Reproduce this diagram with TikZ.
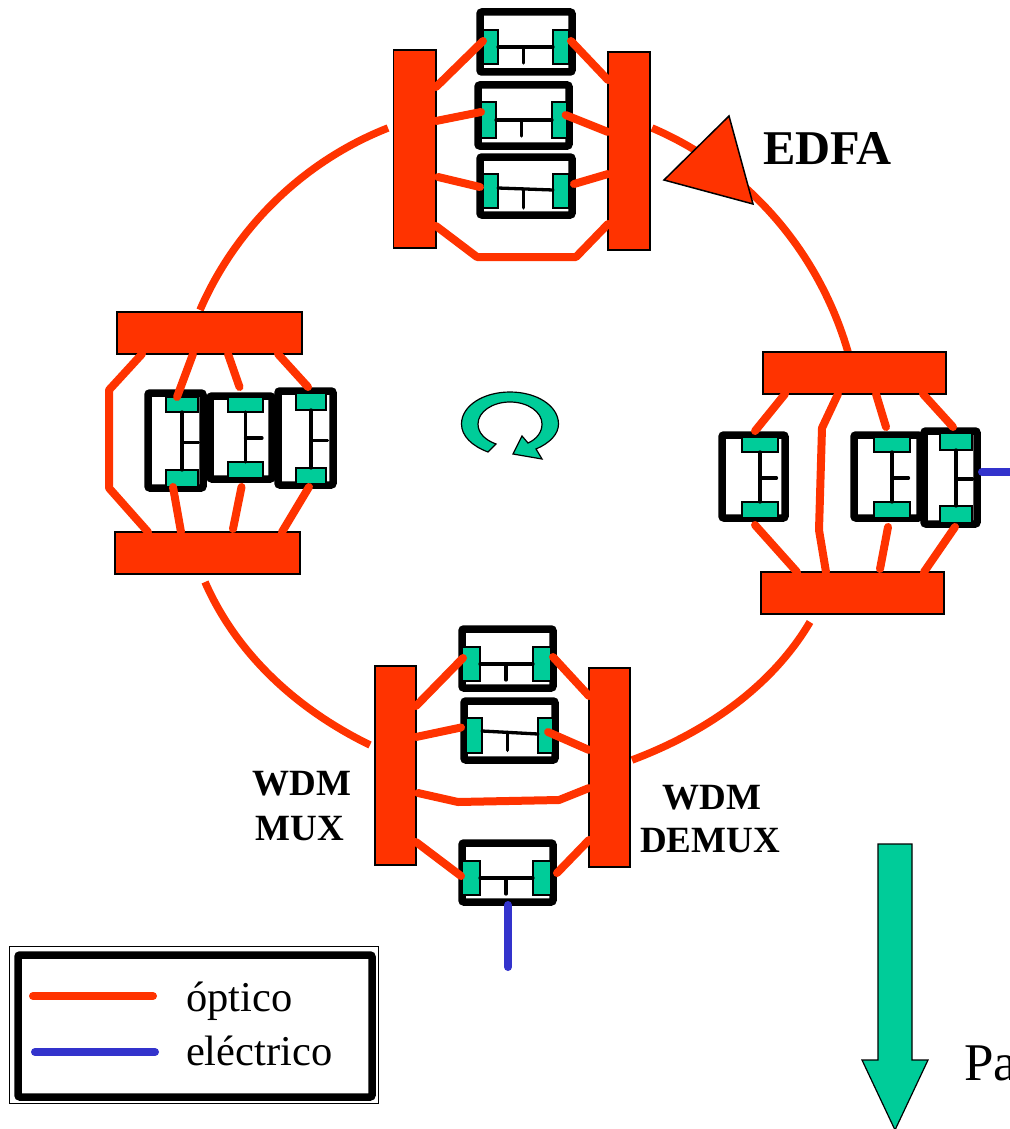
\documentclass[tikz,border=0pt]{standalone}
\usepackage{fontspec}
\setmainfont{Liberation Serif}
\usetikzlibrary{calc}
\definecolor{optred}{HTML}{FF3300}
\definecolor{grn}{HTML}{00CC99}
\definecolor{elblue}{HTML}{3333CC}
\newcommand{\boxat}[6]{%
  \pgfmathsetmacro\wid{#5-#3}\pgfmathsetmacro\hei{#6-#4}%
  \node[#1,minimum width=\wid pt,minimum height=\hei pt] (#2) at ({(#3+#5)/2},{(#4+#6)/2}) {};}
\def\lya{0}\def\lyb{0}\def\ticklen{16}
% horizontal unit: box, left green, right green, tick offset
\newcommand{\unitH}[9]{% name, box x0 y0 x1 y1, green xa xb xc (passed below)
  \boxat{unitbox}{#1}{#2}{#3}{#4}{#5}%
  \def\un{#1}\def\ga{#6}\def\gb{#7}\def\gc{#8}\def\gd{#9}\unitHb}
\newcommand{\unitHb}[3]{% green y0 y1, tick fraction
  \boxat{greenbox}{\un a}{\ga}{#1}{\gb}{#2}%
  \boxat{greenbox}{\un b}{\gc}{#1}{\gd}{#2}%
  \draw[wire] ([yshift=\lya]\un a.east) -- ([yshift=\lyb]\un b.west);
  \draw[wire] ($([yshift=\lya]\un a.east)!#3!([yshift=\lyb]\un b.west)$) -- ++(0,\ticklen);}
\newcommand{\unitV}[9]{% name, box x0 y0 x1 y1, green x0 x1, ya yb
  \boxat{unitbox}{#1}{#2}{#3}{#4}{#5}%
  \def\un{#1}\def\ga{#6}\def\gb{#7}\def\gc{#8}\def\gd{#9}\unitVb}
\newcommand{\unitVb}[2]{% yc yd
  \boxat{greenbox}{\un a}{\ga}{\gc}{\gb}{\gd}%
  \boxat{greenbox}{\un b}{\ga}{#1}{\gb}{#2}%
  \draw[wire] (\un a.south) -- (\un b.north);
  \draw[wire] ($(\un a.south)!.52!(\un b.north)$) -- ++(16.5,0);}
\tikzset{
  every node/.style={inner sep=0pt,outer sep=0pt},
  barbox/.style={draw=black,line width=1.2pt,fill=optred},
  unitbox/.style={draw=black,line width=7.5pt,fill=white,rounded corners=2pt},
  greenbox/.style={draw=black,line width=1.1pt,fill=grn},
  opt/.style={draw=optred,line width=8pt,line cap=round,line join=round},
  ring/.style={draw=optred,line width=7.5pt},
  elec/.style={draw=elblue,line width=8pt,line cap=round},
  wire/.style={draw=black,line width=3.3pt,line cap=round},
  boldlab/.style={font=\bfseries\fontsize{37}{37}\selectfont,anchor=base},
  leglab/.style={font=\fontsize{42.5}{42.5}\selectfont,anchor=base west},
}
\begin{document}
\begin{tikzpicture}[x=1pt,y=-1pt]
\useasboundingbox (0,0) rectangle (1009,1129);
% ring
\coordinate (r1) at (388,128); \coordinate (r2) at (200,310);
\coordinate (r3) at (205,582); \coordinate (r4) at (370,745);
\coordinate (r5) at (632,760); \coordinate (r6) at (810,622);
\coordinate (r7) at (652,128); \coordinate (r8) at (848,352);
\draw[ring] (r1) .. controls (304,161) and (236,227) .. (r2);
\draw[ring] (r3) .. controls (237,655) and (298,710) .. (r4);
\draw[ring] (r5) .. controls (704,733) and (771,688) .. (r6);
\draw[ring] (r7) .. controls (748,169) and (819,252) .. (r8);
% EDFA
\draw[fill=optred,draw=black,line width=1.5pt,line join=miter] (729,116) -- (664,180) -- (753,204) -- cycle;
\node[font=\bfseries\fontsize{48.5}{48.5}\selectfont,anchor=base west] (edfa) at (763,164) {EDFA};

% TOP GROUP
\boxat{barbox}{TL}{393.5}{50}{436}{248}
\boxat{barbox}{TR}{608}{52}{650}{250}
\unitH{ta}{480}{12}{572}{72}{483}{498}{553}{569}{30}{64}{.46}
\unitH{tb}{478}{85}{569}{146}{481}{496}{552}{567}{102}{138}{.46}
\def\lya{3}\def\lyb{1}\def\ticklen{19}
\unitH{tc}{480}{157}{572}{215}{483}{498}{553}{569}{174}{208}{.46}
\def\lya{0}\def\lyb{0}\def\ticklen{16}
\draw[opt] ([yshift=-37]TL.north east) -- ([yshift=6]taa.west);
\draw[opt] ([yshift=-71]TL.north east) -- ([yshift=8]tba.west);
\draw[opt] ([xshift=2,yshift=-127]TL.north east) -- ([xshift=-3,yshift=4]tca.west);
\draw[opt] ([yshift=-176]TL.north east) -- (477,257) -- (576,257) -- ([yshift=-172]TR.north west);
\draw[opt] ([xshift=2,yshift=6]tab.east) -- ([yshift=-28]TR.north west);
\draw[opt] ([xshift=6,yshift=5]tbb.center) -- ([yshift=-80]TR.north west);
\draw[opt] ([xshift=5,yshift=7]tcb.east) -- ([yshift=-122]TR.north west);

% LEFT GROUP
\boxat{barbox}{LT}{117}{312}{302}{354}
\boxat{barbox}{LB}{115}{532}{300}{574}
\unitV{lb}{210}{396}{272}{479}{228}{263}{397}{412}{462}{478}
\unitV{la}{148}{393}{203}{488}{166}{198}{397}{412}{470}{487}
\unitV{lc}{278}{391}{333}{485}{296}{326}{393}{410}{468}{484}
\draw[opt] ([xshift=25]LT.south west) -- (109,390) -- (109,488) -- ([xshift=33]LB.north west);
\draw[opt] ([xshift=76]LT.south west) -- ([xshift=-5]laa.north);
\draw[opt] ([xshift=111]LT.south west) -- ([yshift=10,xshift=-6]lba.north);
\draw[opt] ([xshift=161]LT.south west) -- ([xshift=-3,yshift=6]lca.north);
\draw[opt] ([xshift=-9]lab.south) -- ([xshift=66]LB.north west);
\draw[opt] ([xshift=-4,yshift=-9]lbb.south) -- ([xshift=118,yshift=3]LB.north west);
\draw[opt] ([xshift=-2,yshift=-3]lcb.south) -- ([xshift=167]LB.north west);

% RIGHT GROUP
\boxat{barbox}{RT}{763}{352}{946}{394}
\boxat{barbox}{RB}{761}{572}{944}{614}
\unitV{ra}{722}{435}{785}{518}{742}{778}{437}{452}{502}{518}
\unitV{rb}{854}{435}{920}{518}{874}{910}{437}{452}{502}{518}
\unitV{rc}{924}{431}{977}{524}{940}{972}{433}{450}{506}{523}
\draw[elec] ([xshift=5,yshift=5.5]rc.east) -- ++(40,0);
\draw[opt] ([xshift=22]RT.south west) -- ([xshift=-5,yshift=6]raa.north);
\draw[opt] ([xshift=75]RT.south west) -- (822,428) -- (819,530) -- ([xshift=65]RB.north west);
\draw[opt] ([xshift=113]RT.south west) -- ([xshift=-6,yshift=10]rba.north);
\draw[opt] ([xshift=160]RT.south west) -- ([xshift=-3,yshift=6]rca.north);
\draw[opt] ([xshift=-5,yshift=-7]rab.south) -- ([xshift=36]RB.north west);
\draw[opt] ([xshift=-4,yshift=-9]rbb.south) -- ([xshift=119,yshift=3]RB.north west);
\draw[opt] ([xshift=-1,yshift=-4]rcb.south) -- ([xshift=163]RB.north west);

% BOTTOM GROUP
\boxat{barbox}{BL}{375}{666}{416}{865}
\boxat{barbox}{BR}{589}{668}{630}{867}
\unitH{ba}{462}{629}{553}{688}{462}{480}{533}{551}{647}{681}{.49}
\def\lya{4.5}\def\lyb{1.5}\def\ticklen{18}
\unitH{bb}{464}{701}{555}{760}{466}{482}{538}{553}{718}{753}{.46}
\def\lya{0}\def\lyb{0}\def\ticklen{16}
\unitH{bc}{462}{843}{553}{902}{462}{480}{533}{551}{861}{895}{.49}
\draw[elec] ([xshift=.5,yshift=-3]bc.south) -- ++(0,62);
\draw[opt] ([yshift=-40]BL.north east) -- ([xshift=1,yshift=6]baa.west);
\draw[opt] ([yshift=-71]BL.north east) -- ([xshift=-5,yshift=8]bba.west);
\draw[opt] ([xshift=2,yshift=-127]BL.north east) -- (458,802) -- (559,800) -- ([yshift=-120]BR.north west);
\draw[opt] ([yshift=-176]BL.north east) -- ([xshift=-1,yshift=2]bca.west);
\draw[opt] ([xshift=2,yshift=7]bab.east) -- ([yshift=-28]BR.north west);
\draw[opt] ([xshift=2.5,yshift=3.5]bbb.center) -- ([yshift=-82]BR.north west);
\draw[opt] ([xshift=6,yshift=5]bcb.east) -- ([yshift=-172]BR.north west);

\node[boldlab] (wm1) at (302,795) {WDM};
\node[boldlab] (wm2) at (300,840) {MUX};
\node[boldlab] (wd1) at (712,809) {WDM};
\node[boldlab] (wd2) at (710,852) {DEMUX};

% rotation arrow
\draw[fill=grn,draw=black,line width=1.2pt,line join=miter]
  (488,452) .. controls (472,446) and (461.5,436) .. (461.5,424)
  .. controls (461.5,406) and (483,392) .. (510,392)
  .. controls (537,392) and (558.5,406) .. (558.5,424)
  .. controls (558.5,434) and (550,443) .. (536,449)
  -- (542,459) -- (513,454) -- (522,436) -- (528,443)
  .. controls (537,439) and (542,432) .. (542,424)
  .. controls (542,412) and (528,402) .. (510,402)
  .. controls (492,402) and (478,412) .. (478,424)
  .. controls (478,433) and (485,440) .. (496,444) -- cycle;

% direction arrow
\draw[fill=grn,draw=black,line width=1.2pt,line join=miter]
  (878,844) -- (912,844) -- (912,1060) -- (928,1060) -- (895,1130) -- (862,1060) -- (878,1060) -- cycle;
\node[font=\fontsize{53}{53}\selectfont,anchor=base west] (pa) at (964,1080) {Pa};

% legend
\boxat{}{legout}{9}{946}{378}{1103}
\draw[black,line width=1pt] (legout.south west) rectangle (legout.north east);
\boxat{unitbox}{legin}{18}{955}{372}{1097}
\coordinate (lr1) at (33,996); \coordinate (lr2) at (153,996);
\coordinate (lb1) at (35,1052); \coordinate (lb2) at (155,1052);
\draw[opt] (lr1) -- (lr2);
\draw[elec] (lb1) -- (lb2);
\node[leglab] (l1) at (186,1011) {óptico};
\node[leglab] (l2) at (186,1065) {eléctrico};
\end{tikzpicture}
\end{document}
